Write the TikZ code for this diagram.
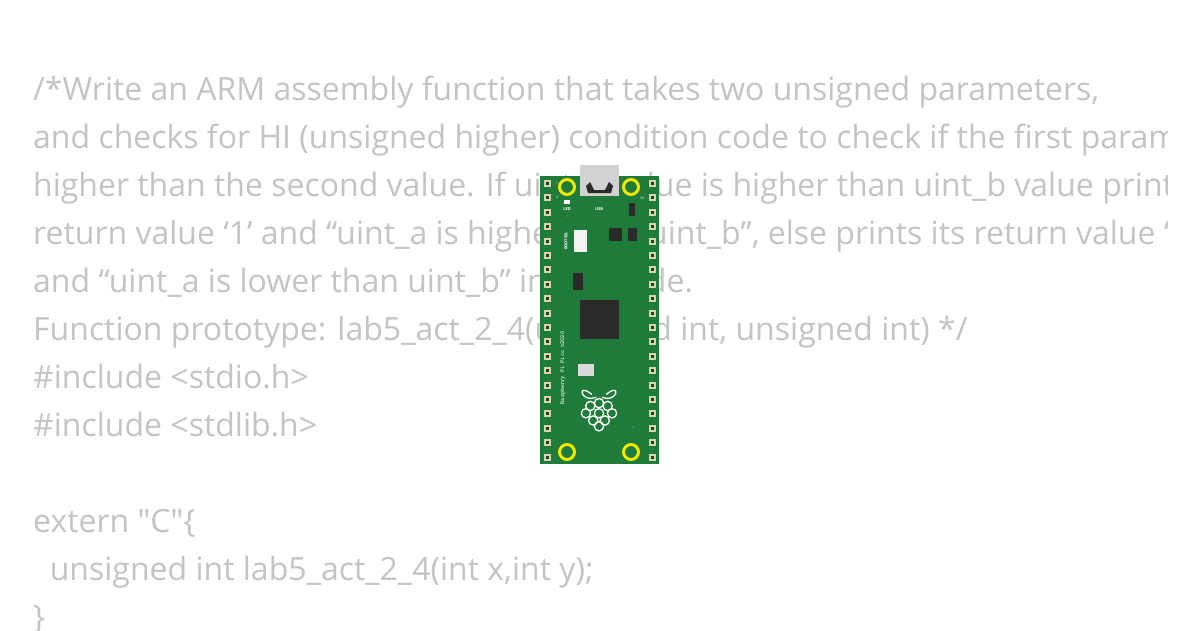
\documentclass[tikz,border=0pt]{standalone}
\usepackage{fontspec}
\setmainfont{Open Sans}
\definecolor{txt}{HTML}{C4C4C4}
\definecolor{pcb}{HTML}{1E7B3A}
\definecolor{pad}{HTML}{C8B27A}
\definecolor{chip}{HTML}{2A2A2A}
\begin{document}
\begin{tikzpicture}[x=1pt,y=-1pt,
  line/.style={anchor=base west,inner sep=0pt,text=txt,font=\fontsize{32}{32}\selectfont},
  hole/.style={circle,draw=yellow!90!olive,line width=3pt,fill=pcb,minimum size=15pt,inner sep=0pt},
  pinsq/.style={fill=pad!60!white,minimum size=7pt,inner sep=0pt},
  pindot/.style={fill=pcb!60!black,minimum size=3pt,inner sep=0pt}]
\useasboundingbox (0,0) rectangle (1200,630);
\fill[white] (0,0) rectangle (1200,630);
\begin{scope}
\clip (0,0) rectangle (1167,630);
\node[line] (l1) at (33,100) {/*Write an ARM assembly function that takes two unsigned parameters,};
\node[line] (l2) at (33,148) {and checks for HI (unsigned higher) condition code to check if the first parameter is};
\node[line] (l3) at (33,196) {higher than the second value. If uint\_a value is higher than uint\_b value prints its};
\node[line] (l4) at (33,244) {return value ‘1’ and “uint\_a is higher than uint\_b”, else prints its return value ‘0’};
\node[line] (l5) at (33,292) {and “uint\_a is lower than uint\_b” in the code.};
\node[line] (l6) at (33,340) {Function prototype: lab5\_act\_2\_4(unsigned int, unsigned int) */};
\node[line] (l7) at (33,388) {\#include <stdio.h>};
\node[line] (l8) at (33,436) {\#include <stdlib.h>};
\node[line] (l9) at (33,532) {extern \textquotedbl C\textquotedbl\{};
\node[line] (l10) at (33,580) {\ \ unsigned int lab5\_act\_2\_4(int x,int y);};
\node[line] (l11) at (33,628) {\}};
\end{scope}
% board
\fill[pcb] (540,176) rectangle (659,464);
\fill[gray!35] (580,165) rectangle (619,196);
\fill[chip] (586,186) -- (590,182) -- (594,190) -- (605,190) -- (609,182) -- (613,186) -- (611,193) -- (588,193) -- cycle;
\foreach \i in {0,...,19}{
  \node[pinsq] (pl\i) at (547,{183.5+14.4*\i}) {};
  \node[pindot] at (547,{183.5+14.4*\i}) {};
  \node[pinsq] (pr\i) at (652,{183.5+14.4*\i}) {};
  \node[pindot] at (652,{183.5+14.4*\i}) {};
}
\node[hole] (h1) at (567,187) {};
\node[hole] (h2) at (631,187) {};
\node[hole] (h3) at (567,452) {};
\node[hole] (h4) at (631,452) {};
\fill[chip] (580,300) rectangle (619,339);
\fill[chip] (573,273) rectangle (583,290);
\fill[chip] (609,228) rectangle (622,241);
\fill[chip] (628,228) rectangle (637,241);
\fill[chip] (629,203) rectangle (635,216);
\fill[white!90!gray] (574,230) rectangle (587,252);
\fill[gray!30] (578,364) rectangle (594,376);
\fill[white] (564,200) rectangle (570,204);
\fill[pcb!50!gray] (567,216) circle (1.3);
\fill[pcb!50!gray] (633,427) circle (1.3);
\node[text=white,font=\fontsize{4}{4}\selectfont\bfseries] (led) at (567,209) {LED};
\node[text=white,font=\fontsize{4}{4}\selectfont\bfseries] (usb) at (599,209) {USB};
\node[text=white,font=\fontsize{3.5}{4}\selectfont,inner sep=0pt] (n1) at (557,183) {1};
\node[text=white,font=\fontsize{3.5}{4}\selectfont,inner sep=0pt] (n2) at (557,197) {2};
\node[text=white,font=\fontsize{3.5}{4}\selectfont,inner sep=0pt] (n39) at (642,198) {39};
\node[text=white,font=\fontsize{4}{4}\selectfont\bfseries,rotate=90] (bs) at (566,241) {BOOTSEL};
\node[text=white,font=\fontsize{6}{6}\selectfont\bfseries\ttfamily,rotate=90] (rp) at (563,368) {Raspberry Pi Pico ©2020};
% raspberry logo
\begin{scope}[shift={(599,406)},scale=1.45,draw=white,line width=1.3pt]
\draw (-5,-8) .. controls (-12,-14) and (-14,-9) .. (-9,-6) .. controls (-6,-5) .. (-2,-6);
\draw (5,-8) .. controls (12,-14) and (14,-9) .. (9,-6) .. controls (6,-5) .. (2,-6);
\foreach \p in {(0,-2),(-6,0),(6,0),(-9,5),(9,5),(0,5),(-4,10),(4,10),(0,14)}
  \draw \p circle (3.2);
\end{scope}
\end{tikzpicture}
\end{document}
